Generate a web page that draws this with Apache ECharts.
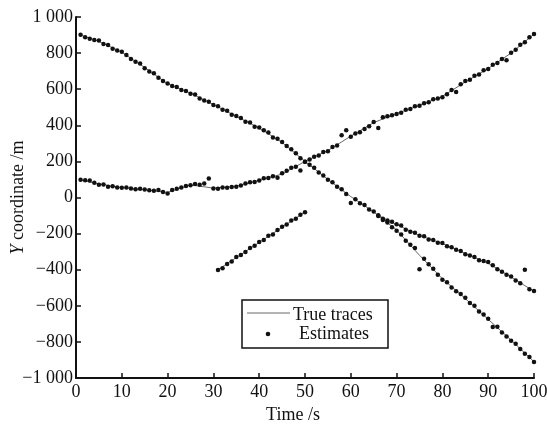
<!DOCTYPE html>
<html>
<head>
<meta charset="utf-8">
<script src="https://cdn.jsdelivr.net/npm/echarts@6/dist/echarts.min.js"></script>
<style>html,body{margin:0;padding:0;background:#fff}#c{width:547px;height:425px}</style>
</head>
<body>
<div id="c"></div>
<script>
// True traces (sampled)
const trueTimesAB = [1,5,10,15,20,25,30,35,40,45,50,55,60,65,70,75,80,85,90,95,100];
const trueA = [900,865,805,720,630,578,515,450,385,305,200,100,5,-80,-180,-320,-450,-560,-675,-790,-910];
const trueB = [97,75,55,43,28,70,52,62,95,130,200,260,340,415,465,510,560,640,715,800,905];
const trueTimesC = [31,40,50];
const trueC = [-400,-249,-81];
const trueTimesD = [66,70,75,80,85,90,95,100];
const trueD = [-100,-150,-210,-255,-310,-365,-440,-520];

// Estimates (one per second)
const estStartA = 1;
const estA = [902,888,880,872,870,850,845,824,815,808,790,768,752,742,716,698,688,664,645,632,
  618,612,596,590,575,570,548,538,530,512,505,486,480,458,452,440,420,415,392,388,
  372,360,332,325,308,286,268,245,218,198,182,165,138,122,98,85,60,46,20,-30,
  -10,-32,-42,-66,-78,-98,-124,-138,-165,-184,-205,-240,-262,-280,-398,-340,-370,-395,-428,-455,
  -470,-498,-520,-535,-556,-585,-600,-632,-648,-672,-718,-716,-748,-770,-793,-810,-840,-866,-884,-912];
const estStartB = 1;
const estB = [98,95,94,82,70,72,60,62,56,54,56,50,46,48,44,40,38,42,30,22,
  42,48,56,64,68,75,70,78,105,50,48,56,54,58,60,66,78,84,86,94,
  106,108,118,110,135,148,165,170,150,198,210,226,232,252,256,280,288,345,372,336,
  355,362,380,395,418,385,445,450,455,462,470,486,490,505,508,522,528,545,548,556,
  572,596,585,628,645,652,674,682,705,712,736,745,768,760,802,818,846,860,888,906];
const estStartC = 31;
const estC = [-402,-392,-368,-355,-330,-318,-302,-280,-268,-246,-235,-212,-205,-180,-162,-150,-128,-118,-95,-82];
const estStartD = 66;
const estD = [-102,-118,-128,-135,-148,-155,-178,-190,-195,-212,-215,-232,-235,-250,-252,-270,-275,-290,-296,-314,
  -322,-330,-348,-352,-358,-376,-398,-412,-428,-438,-460,-475,-400,-508,-518];

const xTicks = {min: 0, max: 100, interval: 10};
const yTicks = {min: -1000, max: 1000, interval: 200};

const FONT = "'Liberation Serif','Times New Roman',serif";
const FS = 18;

function pairs(times, vals) { return vals.map((v, i) => [times[i], v]); }
function seq(start, vals) { return vals.map((v, i) => [start + i, v]); }

const estimates = [].concat(seq(estStartA, estA), seq(estStartB, estB), seq(estStartC, estC), seq(estStartD, estD));

const lineStyle = {color: '#6a6a6a', width: 1};
function trueSeries(data) {
  return {type: 'line', name: 'True traces', data: data, showSymbol: false, symbol: 'none',
    lineStyle: lineStyle, z: 2, silent: true, animation: false};
}

const chart = echarts.init(document.getElementById('c'), null, {renderer: 'canvas'});
chart.setOption({
  animation: false,
  backgroundColor: '#fff',
  grid: {left: 76, right: 13, top: 17, bottom: 47, outerBoundsMode: 'none', containLabel: false},
  xAxis: {
    type: 'value', min: xTicks.min, max: xTicks.max, interval: xTicks.interval,
    name: 'Time /s', nameLocation: 'middle', nameGap: 27,
    nameTextStyle: {fontFamily: FONT, fontSize: FS, color: '#111', padding: [0, 24, 0, 0]},
    axisLine: {onZero: false, lineStyle: {color: '#111', width: 2}},
    axisTick: {inside: true, length: 5, lineStyle: {color: '#111', width: 1.5}},
    axisLabel: {fontFamily: FONT, fontSize: FS, color: '#111', margin: 5},
    splitLine: {show: false}
  },
  yAxis: {
    type: 'value', min: yTicks.min, max: yTicks.max, interval: yTicks.interval,
    name: '{i|Y} coordinate /m', nameLocation: 'middle', nameGap: 49, nameRotate: 90,
    nameMoveOverlap: false,
    nameTextStyle: {fontFamily: FONT, fontSize: FS, color: '#111',
      rich: {i: {fontFamily: FONT, fontSize: FS, fontStyle: 'italic', color: '#111'}}},
    axisLine: {show: true, onZero: false, lineStyle: {color: '#111', width: 2}},
    axisTick: {show: true, inside: true, length: 5, lineStyle: {color: '#111', width: 1.5}},
    axisLabel: {fontFamily: FONT, fontSize: FS, color: '#111', margin: 3,
      formatter: function (v) {
        const a = Math.abs(v);
        const s = a >= 1000 ? (Math.floor(a / 1000) + ' ' + String(a % 1000).padStart(3, '0')) : String(a);
        return (v < 0 ? '\u2212' : '') + s;
      }},
    splitLine: {show: false}
  },
  series: [
    trueSeries(pairs(trueTimesAB, trueA)),
    trueSeries(pairs(trueTimesAB, trueB)),
    trueSeries(pairs(trueTimesC, trueC)),
    trueSeries(pairs(trueTimesD, trueD)),
    {type: 'scatter', name: 'Estimates', data: estimates, symbol: 'circle', symbolSize: 4.5,
      itemStyle: {color: '#111', opacity: 1}, z: 3, silent: true}
  ],
  graphic: [
    {type: 'rect', shape: {x: 242, y: 300, width: 146, height: 48},
      style: {fill: '#fff', stroke: '#111', lineWidth: 1.5}, z: 10},
    {type: 'line', shape: {x1: 247, y1: 313, x2: 290, y2: 313},
      style: {stroke: '#6a6a6a', lineWidth: 1}, z: 11},
    {type: 'circle', shape: {cx: 268, cy: 334, r: 2.3}, style: {fill: '#111'}, z: 11},
    {type: 'text', x: 293, y: 315, z: 11,
      style: {text: 'True traces', fontFamily: FONT, fontSize: FS, fill: '#111', verticalAlign: 'middle', align: 'left'}},
    {type: 'text', x: 299, y: 334, z: 11,
      style: {text: 'Estimates', fontFamily: FONT, fontSize: FS, fill: '#111', verticalAlign: 'middle', align: 'left'}}
  ]
});
</script>
</body>
</html>
